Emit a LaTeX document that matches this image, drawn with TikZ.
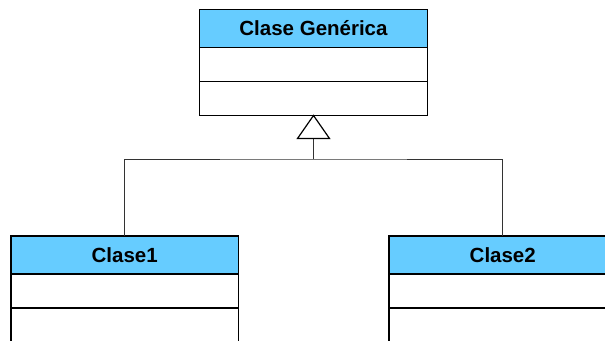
\documentclass[tikz,border=0pt]{standalone}
\usepackage{fontspec}
\setmainfont{Liberation Sans}
\definecolor{hdrblue}{HTML}{66CCFF}
\definecolor{lineclr}{HTML}{333333}
\tikzset{
  hdr/.style={draw=black, line width=1.4pt, fill=hdrblue, rectangle, inner sep=0pt, outer sep=0pt,
    minimum width=227.5pt, minimum height=38pt, font=\fontsize{20.5}{22}\selectfont\bfseries, anchor=north},
  comp/.style={draw=black, line width=1.4pt, fill=white, rectangle, inner sep=0pt, outer sep=0pt,
    minimum width=227.5pt, minimum height=34pt, anchor=north},
  conn/.style={draw=lineclr, line width=1pt},
  tri/.style={draw=black, line width=1.2pt, fill=white, line join=miter}
}
\begin{document}
\begin{tikzpicture}[x=1pt, y=-1pt]
\useasboundingbox (0,0) rectangle (605,340);
\clip (0,0) rectangle (605,340);
\fill[white] (0,0) rectangle (605,340);
% top class
\node[hdr] (g) at (313.5,9.5) {Clase Genérica};
\node[comp] (ga) at (g.south) {};
\node[comp] (gm) at (ga.south) {};
% Clase1
\node[hdr] (c1) at (124.75,236) {Clase1};
\node[comp] (c1a) at (c1.south) {};
\node[comp] (c1m) at (c1a.south) {};
% Clase2
\node[hdr] (c2) at (502.75,236) {Clase2};
\node[comp] (c2a) at (c2.south) {};
\node[comp] (c2m) at (c2a.south) {};
% connectors
\coordinate (tb) at ([yshift=-23pt]gm.south);
\coordinate (j) at ([yshift=-43.5pt]gm.south);
\draw[conn] (c1.north) |- (j) -| (c2.north);
\draw[conn] (j) -- (tb);
\draw[tri] (gm.south) -- ([xshift=-16pt]tb) -- ([xshift=16pt]tb) -- cycle;
\end{tikzpicture}
\end{document}
